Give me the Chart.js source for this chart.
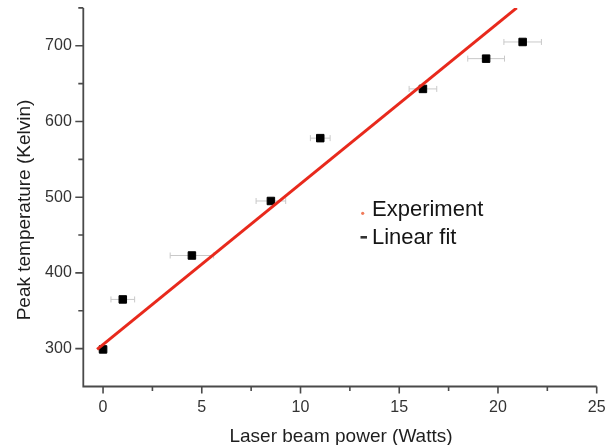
<!DOCTYPE html>
<html><head><meta charset="utf-8">
<script src="https://cdn.jsdelivr.net/npm/chart.js@4.4.1/dist/chart.umd.min.js"></script>
<style>html,body{margin:0;padding:0;background:#fff;}#wrap{width:616px;height:445px;position:relative;}</style>
</head><body><div id="wrap"><canvas id="c" width="616" height="445"></canvas></div>
<script>
const powerW = [0, 1, 4.5, 8.5, 11, 16.2, 19.4, 21.25];
const peakK = [299, 365, 423, 495, 578, 643, 683, 705];
const powerErr = [0.2, 0.6, 1.1, 0.75, 0.5, 0.7, 0.93, 0.95];
const fitX = [-0.3, 20.95];
const fitY = [299, 750];
const xTicks = [0, 5, 10, 15, 20, 25];
const xMinor = [2.5, 7.5, 12.5, 17.5, 22.5];
const yTicks = [300, 400, 500, 600, 700];
const yMinor = [350, 450, 550, 650, 750];
const seriesLabels = ['Experiment', 'Linear fit'];
const xTitle = 'Laser beam power (Watts)';
const yTitle = 'Peak temperature (Kelvin)';

const FONT = '"Liberation Sans", Arial, sans-serif';
const AXIS = '#4a4a4a';

const custom = {
  id: 'custom',
  beforeDatasetsDraw(chart) {
    const {ctx, scales: {x, y}} = chart;
    ctx.save();
    ctx.strokeStyle = '#c9c9c9';
    ctx.lineWidth = 1;
    powerW.forEach((v, i) => {
      const x1 = x.getPixelForValue(v - powerErr[i]);
      const x2 = x.getPixelForValue(v + powerErr[i]);
      const py = y.getPixelForValue(peakK[i]);
      ctx.beginPath();
      ctx.moveTo(x1, py); ctx.lineTo(x2, py);
      ctx.moveTo(x1, py - 3); ctx.lineTo(x1, py + 3);
      ctx.moveTo(x2, py - 3); ctx.lineTo(x2, py + 3);
      ctx.stroke();
    });
    ctx.restore();
  },
  afterDraw(chart) {
    const {ctx, scales: {x, y}, chartArea: a} = chart;
    ctx.save();
    ctx.strokeStyle = AXIS;
    ctx.lineWidth = 1.8;
    ctx.beginPath();
    ctx.moveTo(a.left, a.top); ctx.lineTo(a.left, a.bottom); ctx.lineTo(a.right, a.bottom);
    ctx.stroke();
    ctx.lineWidth = 1.6;
    ctx.beginPath();
    xTicks.forEach(v => { const px = x.getPixelForValue(v); ctx.moveTo(px, a.bottom); ctx.lineTo(px, a.bottom + 7); });
    xMinor.forEach(v => { const px = x.getPixelForValue(v); ctx.moveTo(px, a.bottom); ctx.lineTo(px, a.bottom + 4.5); });
    yTicks.forEach(v => { const py = y.getPixelForValue(v); ctx.moveTo(a.left, py); ctx.lineTo(a.left - 8, py); });
    yMinor.forEach(v => { const py = y.getPixelForValue(v); ctx.moveTo(a.left, py); ctx.lineTo(a.left - 5, py); });
    ctx.stroke();

    // axis titles
    ctx.fillStyle = '#1e1e1e';
    ctx.font = '19px ' + FONT;
    ctx.textAlign = 'center';
    ctx.textBaseline = 'alphabetic';
    ctx.fillText(xTitle, (a.left + a.right) / 2 + 1, 441.5);
    ctx.save();
    ctx.translate(25, 210);
    ctx.rotate(-Math.PI / 2);
    ctx.textBaseline = 'middle';
    ctx.fillText(yTitle, 0, 0);
    ctx.restore();

    // legend
    ctx.font = '22px ' + FONT;
    ctx.textAlign = 'left';
    ctx.textBaseline = 'alphabetic';
    ctx.fillStyle = '#f07a5a';
    ctx.beginPath(); ctx.arc(362.7, 213.3, 1.6, 0, Math.PI * 2); ctx.fill();
    ctx.fillStyle = '#151515';
    ctx.fillText(seriesLabels[0], 372, 216);
    ctx.fillStyle = '#333';
    ctx.fillRect(360.5, 236, 6.5, 2.6);
    ctx.fillStyle = '#151515';
    ctx.fillText(seriesLabels[1], 372, 244);
    ctx.restore();
  }
};

new Chart(document.getElementById('c'), {
  type: 'scatter',
  data: {
    datasets: [
      {
        label: seriesLabels[1],
        type: 'line',
        data: fitX.map((v, i) => ({x: v, y: fitY[i]})),
        borderColor: '#e8291c',
        borderWidth: 3,
        pointRadius: 0,
        fill: false,
        order: 0
      },
      {
        label: seriesLabels[0],
        data: powerW.map((v, i) => ({x: v, y: peakK[i]})),
        pointStyle: 'rect',
        pointRadius: 5.3,
        backgroundColor: '#000',
        borderColor: '#000',
        borderWidth: 1,
        order: 1
      }
    ]
  },
  options: {
    responsive: false,
    animation: false,
    devicePixelRatio: 1,
    layout: {padding: {left: 0, right: 19.3, top: 7.9, bottom: 0}},
    plugins: {legend: {display: false}, tooltip: {enabled: false}},
    scales: {
      x: {
        type: 'linear', min: -1, max: 25,
        afterBuildTicks: s => { s.ticks = xTicks.map(v => ({value: v})); },
        afterFit: s => { s.height = 58.5; s.paddingLeft = 0; s.paddingRight = 0; },
        grid: {display: false, drawTicks: false},
        border: {display: false},
        ticks: {font: {family: FONT, size: 16}, color: '#333', padding: 11, maxRotation: 0, autoSkip: false}
      },
      y: {
        type: 'linear', min: 250, max: 750,
        afterBuildTicks: s => { s.ticks = yTicks.map(v => ({value: v})); },
        afterFit: s => { s.width = 83.3; s.paddingTop = 0; s.paddingBottom = 0; },
        grid: {display: false, drawTicks: false},
        border: {display: false},
        ticks: {font: {family: FONT, size: 16}, color: '#333', padding: 11.5, autoSkip: false}
      }
    }
  },
  plugins: [custom]
});
</script>
</body></html>
